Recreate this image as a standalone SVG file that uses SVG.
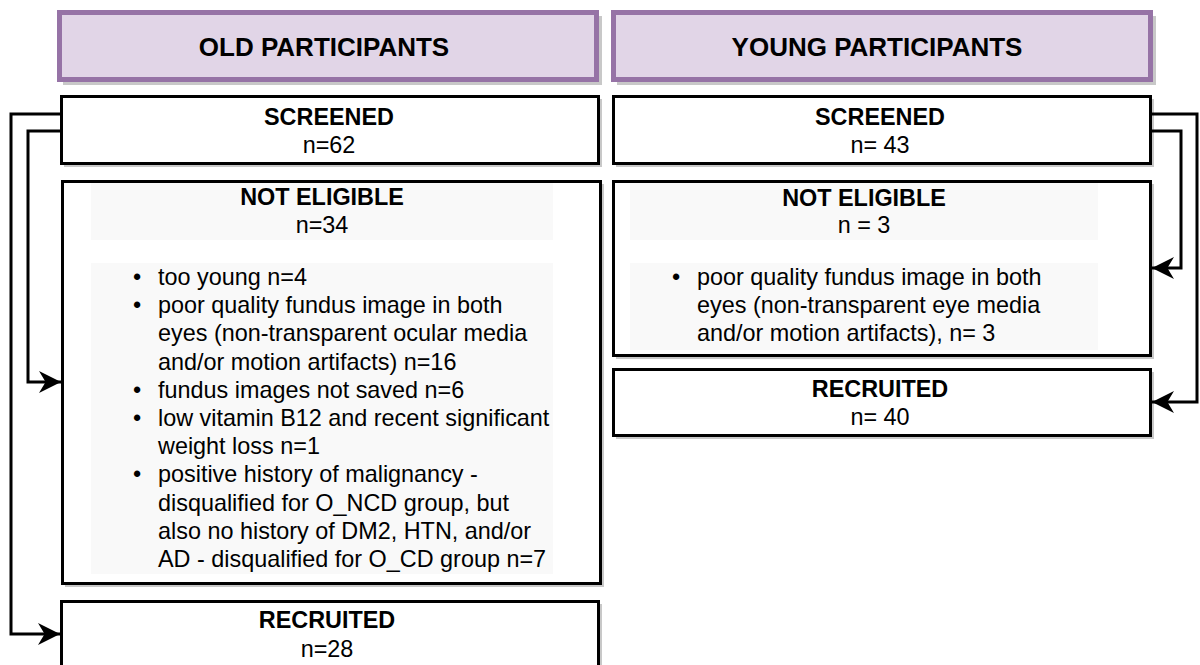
<svg xmlns="http://www.w3.org/2000/svg" width="1200" height="665" viewBox="0 0 1200 665">
<defs>
<style>
.hdr{fill:#e1d5e7;stroke:#9673a6;stroke-width:5}
.box{fill:#ffffff;stroke:#000000;stroke-width:3}
.shd{fill:#c8c8c8}
.ibg{fill:#f9f9f9}
.t{font-family:"Liberation Sans",Arial,sans-serif;font-size:23.4px;fill:#000}
.b{font-weight:bold}
.c{text-anchor:middle}
.h{font-size:26px}
.con{fill:none;stroke:#000;stroke-width:3}
</style>
<marker id="arr" markerUnits="userSpaceOnUse" markerWidth="22" markerHeight="22" refX="20" refY="10" orient="auto" viewBox="0 0 20 20">
<path d="M0,0 L20,10 L0,20 L6,10 Z" fill="#000"/>
</marker>
</defs>
<rect width="1200" height="665" fill="#ffffff"/>

<g id="old-header">
<rect class="shd" x="63" y="16" width="539" height="69"/>
<rect class="hdr" x="59.5" y="12.5" width="537" height="67"/>
<text class="t b c h" x="324" y="56">OLD PARTICIPANTS</text>
</g>
<g id="young-header">
<rect class="shd" x="617" y="16" width="539" height="69"/>
<rect class="hdr" x="613.5" y="12.5" width="537" height="67"/>
<text class="t b c h" x="877" y="56">YOUNG PARTICIPANTS</text>
</g>

<g id="old-screened">
<rect class="shd" x="64" y="99" width="538" height="68"/>
<rect class="box" x="61.5" y="96.5" width="537" height="67"/>
<text class="t b c" x="329" y="125">SCREENED</text>
<text class="t c" x="329" y="153">n=62</text>
</g>
<g id="young-screened">
<rect class="shd" x="616" y="99" width="538" height="68"/>
<rect class="box" x="613.5" y="96.5" width="537" height="67"/>
<text class="t b c" x="880" y="125">SCREENED</text>
<text class="t c" x="880" y="153">n= 43</text>
</g>

<g id="old-not-eligible">
<rect class="shd" x="65" y="184" width="539" height="403"/>
<rect class="box" x="62.5" y="181.5" width="538" height="402"/>
<rect class="ibg" x="91" y="183" width="462" height="57"/>
<rect class="ibg" x="91" y="263" width="462" height="311"/>
<text class="t b c" x="322" y="205">NOT ELIGIBLE</text>
<text class="t c" x="322" y="233">n=34</text>
<text class="t c" x="137" y="285">•</text>
<text class="t" x="158" y="285">too young n=4</text>
<text class="t c" x="137" y="313.2">•</text>
<text class="t" x="158" y="313.2">poor quality fundus image in both</text>
<text class="t" x="158" y="341.4">eyes (non-transparent ocular media</text>
<text class="t" x="158" y="369.6">and/or motion artifacts) n=16</text>
<text class="t c" x="137" y="397.8">•</text>
<text class="t" x="158" y="397.8">fundus images not saved n=6</text>
<text class="t c" x="137" y="426">•</text>
<text class="t" x="158" y="426">low vitamin B12 and recent significant</text>
<text class="t" x="158" y="454.2">weight loss n=1</text>
<text class="t c" x="137" y="482.4">•</text>
<text class="t" x="158" y="482.4">positive history of malignancy -</text>
<text class="t" x="158" y="510.6">disqualified for O_NCD group, but</text>
<text class="t" x="158" y="538.8">also no history of DM2, HTN, and/or</text>
<text class="t" x="158" y="567">AD - disqualified for O_CD group n=7</text>
</g>

<g id="young-not-eligible">
<rect class="shd" x="616" y="184" width="538" height="175"/>
<rect class="box" x="613.5" y="181.5" width="537" height="174"/>
<rect class="ibg" x="630" y="183" width="468" height="57"/>
<rect class="ibg" x="630" y="263" width="468" height="87"/>
<text class="t b c" x="864" y="206">NOT ELIGIBLE</text>
<text class="t c" x="864" y="233">n = 3</text>
<text class="t c" x="676" y="285">•</text>
<text class="t" x="697" y="285">poor quality fundus image in both</text>
<text class="t" x="697" y="313.2">eyes (non-transparent eye media</text>
<text class="t" x="697" y="341.4">and/or motion artifacts), n= 3</text>
</g>

<g id="young-recruited">
<rect class="shd" x="616" y="372" width="538" height="67"/>
<rect class="box" x="613.5" y="369.5" width="537" height="66"/>
<text class="t b c" x="880" y="397">RECRUITED</text>
<text class="t c" x="880" y="425">n= 40</text>
</g>

<g id="old-recruited">
<rect class="shd" x="64" y="604" width="538" height="80"/>
<rect class="box" x="61.5" y="601.5" width="537" height="80"/>
<text class="t b c" x="327" y="628">RECRUITED</text>
<text class="t c" x="327" y="657">n=28</text>
</g>

<g id="connectors">
<path class="con" d="M61,114 H11 V634 H60" marker-end="url(#arr)"/>
<path class="con" d="M61,131 H28 V382 H61" marker-end="url(#arr)"/>
<path class="con" d="M1152,114 H1197 V402 H1152" marker-end="url(#arr)"/>
<path class="con" d="M1152,131 H1181 V268 H1152" marker-end="url(#arr)"/>
</g>
</svg>
